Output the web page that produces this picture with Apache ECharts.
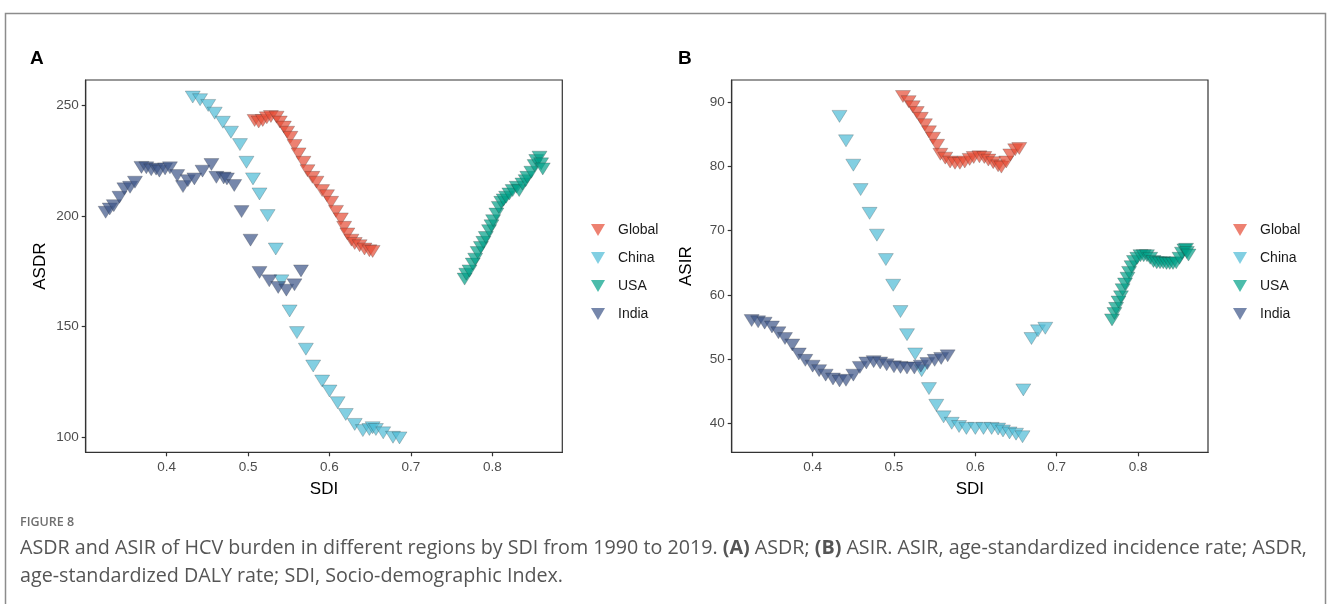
<!DOCTYPE html>
<html>
<head>
<meta charset="utf-8">
<script src="https://cdn.jsdelivr.net/npm/echarts@6/dist/echarts.min.js"></script>
<style>
html,body{margin:0;padding:0;background:#fff;}
#c{width:1330px;height:604px;}
</style>
</head>
<body>
<div id="c"></div>
<script>
// ---- data ----
const regions = ['Global', 'China', 'USA', 'India'];
const regionColors = ['#E64B35', '#4DBBD5', '#00A087', '#3C5488'];
const sdiTicks = [0.4, 0.5, 0.6, 0.7, 0.8];
const asdrTicks = [100, 150, 200, 250];
const asirTicks = [40, 50, 60, 70, 80, 90];

// Panel A: [SDI, ASDR]
const globalASDR = [[0.508,243.2],[0.513,242.5],[0.518,243.2],[0.523,244.4],[0.528,245.0],[0.535,244.7],[0.539,242.5],[0.544,240.2],[0.548,237.9],[0.552,235.6],[0.557,231.9],[0.562,228.1],[0.568,224.3],[0.573,220.5],[0.579,217.5],[0.584,215.3],[0.591,211.5],[0.597,209.2],[0.602,206.2],[0.608,202.1],[0.614,198.7],[0.618,194.9],[0.622,191.9],[0.627,189.1],[0.631,187.6],[0.637,186.6],[0.643,185.1],[0.649,184.3],[0.653,184.0]];
const chinaASDR = [[0.432,253.8],[0.441,252.6],[0.451,250.0],[0.459,246.5],[0.469,242.4],[0.479,237.9],[0.490,232.3],[0.498,224.3],[0.506,216.8],[0.514,210.0],[0.524,200.2],[0.534,185.1],[0.541,170.7],[0.551,157.1],[0.560,147.3],[0.571,139.8],[0.580,132.2],[0.591,125.4],[0.600,120.9],[0.610,115.6],[0.620,110.3],[0.631,105.8],[0.641,103.0],[0.649,103.5],[0.653,104.3],[0.657,103.5],[0.666,102.0],[0.678,100.0],[0.686,99.7]];
const usaASDR = [[0.766,171.5],[0.768,173.7],[0.772,175.2],[0.776,178.3],[0.779,180.5],[0.782,183.5],[0.786,185.8],[0.789,188.1],[0.792,190.3],[0.796,193.4],[0.799,195.6],[0.801,197.9],[0.805,200.9],[0.808,203.9],[0.811,206.2],[0.814,207.3],[0.817,208.5],[0.821,210.0],[0.825,211.5],[0.830,213.0],[0.833,211.5],[0.837,214.5],[0.841,216.0],[0.843,217.5],[0.848,219.8],[0.852,222.8],[0.854,225.1],[0.858,226.6],[0.860,223.6],[0.862,221.3]];
const indiaASDR = [[0.325,201.7],[0.330,203.2],[0.335,204.7],[0.342,208.5],[0.348,212.3],[0.355,213.0],[0.361,215.3],[0.369,222.0],[0.375,221.8],[0.381,220.9],[0.387,221.2],[0.391,220.3],[0.398,221.3],[0.404,221.8],[0.413,218.3],[0.420,213.3],[0.426,216.0],[0.434,216.8],[0.444,220.3],[0.455,223.3],[0.461,217.5],[0.470,217.2],[0.474,216.8],[0.483,213.8],[0.492,202.0],[0.503,189.1],[0.514,174.5],[0.526,170.7],[0.537,167.7],[0.547,166.5],[0.557,168.9],[0.565,175.2]];

// Panel B: [SDI, ASIR]
const globalASIR = [[0.511,90.9],[0.518,90.1],[0.523,89.3],[0.528,88.4],[0.533,87.5],[0.538,86.5],[0.543,85.4],[0.548,84.4],[0.553,83.3],[0.557,81.9],[0.563,81.3],[0.569,80.7],[0.575,80.5],[0.581,80.5],[0.587,80.7],[0.593,81.1],[0.598,81.4],[0.605,81.5],[0.611,81.4],[0.616,81.0],[0.622,80.6],[0.628,80.1],[0.632,79.9],[0.638,80.7],[0.643,81.8],[0.649,82.6],[0.654,82.8]];
const chinaASIR = [[0.433,87.8],[0.441,84.0],[0.450,80.2],[0.459,76.4],[0.470,72.7],[0.479,69.3],[0.490,65.5],[0.499,61.5],[0.508,57.4],[0.516,53.8],[0.526,50.8],[0.534,48.2],[0.543,45.4],[0.552,42.8],[0.561,41.0],[0.571,40.0],[0.580,39.5],[0.589,39.2],[0.600,39.2],[0.610,39.2],[0.620,39.2],[0.628,39.1],[0.634,38.8],[0.642,38.5],[0.650,38.3],[0.658,37.9],[0.659,45.2],[0.669,53.2],[0.677,54.4],[0.686,54.8]];
const usaASIR = [[0.768,56.1],[0.771,57.1],[0.773,57.9],[0.776,58.9],[0.779,59.7],[0.781,60.8],[0.784,61.7],[0.787,62.6],[0.789,63.5],[0.792,64.4],[0.795,65.2],[0.799,65.7],[0.803,66.1],[0.807,66.1],[0.811,66.1],[0.815,65.7],[0.819,65.2],[0.823,65.0],[0.827,65.0],[0.831,65.0],[0.835,64.9],[0.839,64.9],[0.843,64.9],[0.847,65.0],[0.851,65.7],[0.854,66.5],[0.857,67.0],[0.859,67.1],[0.860,66.6],[0.862,66.2]];
const indiaASIR = [[0.325,56.0],[0.333,55.8],[0.341,55.6],[0.350,55.0],[0.358,54.1],[0.366,53.2],[0.375,52.2],[0.383,50.8],[0.391,49.8],[0.400,48.9],[0.408,48.2],[0.416,47.5],[0.425,46.9],[0.433,46.6],[0.441,46.7],[0.450,47.5],[0.458,48.7],[0.466,49.4],[0.475,49.6],[0.483,49.4],[0.491,49.1],[0.500,48.8],[0.508,48.7],[0.516,48.6],[0.525,48.6],[0.533,48.9],[0.541,49.3],[0.550,49.8],[0.558,50.1],[0.566,50.5]];

const panelA = [globalASDR, chinaASDR, usaASDR, indiaASDR];
const panelB = [globalASIR, chinaASIR, usaASIR, indiaASIR];

// ---- chart ----
const FONT = '"Liberation Sans", Arial, sans-serif';
const CAP = '"Open Sans", sans-serif';
const DOWN_TRI = 'path://M0,0 L20,0 L10,17 Z';
const chart = echarts.init(document.getElementById('c'), null, {renderer: 'canvas'});

function xAxisFor(gi) {
  return {
    type: 'value', gridIndex: gi, min: 0.3005, max: 0.886,
    name: 'SDI', nameLocation: 'middle', nameGap: 29,
    nameTextStyle: {fontFamily: FONT, fontSize: 17, color: '#000'},
    splitLine: {show: false},
    axisLine: {show: true, onZero: false, lineStyle: {color: '#333', width: 1.2}},
    axisTick: {show: true, length: 4, lineStyle: {color: '#333', width: 1.2}, customValues: sdiTicks},
    axisLabel: {customValues: sdiTicks, margin: 8, fontFamily: FONT, fontSize: 13.5, color: '#4d4d4d',
      formatter: v => String(v)}
  };
}
function yAxisFor(gi, name, min, max, ticks) {
  return {
    type: 'value', gridIndex: gi, min: min, max: max,
    name: name, nameLocation: 'middle', nameGap: 37,
    nameTextStyle: {fontFamily: FONT, fontSize: 17, color: '#000'},
    splitLine: {show: false},
    axisLine: {show: true, onZero: false, lineStyle: {color: '#333', width: 1.2}},
    axisTick: {show: true, length: 4, lineStyle: {color: '#333', width: 1.2}, customValues: ticks},
    axisLabel: {customValues: ticks, margin: 7, fontFamily: FONT, fontSize: 13.5, color: '#4d4d4d'}
  };
}

const series = [];
[panelA, panelB].forEach((panel, gi) => {
  panel.forEach((data, i) => {
    series.push({
      type: 'scatter', name: regions[i], xAxisIndex: gi, yAxisIndex: gi,
      data: data, symbol: 'triangle', symbolRotate: 180, symbolSize: [15, 12],
      itemStyle: {color: regionColors[i], opacity: 0.7, borderColor: 'rgba(40,40,40,0.55)', borderWidth: 0.6},
      emphasis: {disabled: true}, animation: false
    });
  });
});

function legendAt(left) {
  return {
    orient: 'vertical', left: left, top: 218, itemWidth: 14, itemHeight: 12, itemGap: 14,
    data: regions.map(r => ({name: r, icon: DOWN_TRI})), selectedMode: false,
    symbolRotate: 0,
    itemStyle: {borderWidth: 0, opacity: 0.7},
    textStyle: {fontFamily: FONT, fontSize: 14, color: '#1a1a1a', padding: [0, 0, 0, 8]}
  };
}

chart.setOption({
  animation: false,
  backgroundColor: '#fff',
  grid: [
    {left: 85.7, top: 80, width: 476.6, height: 372.3, show: true, borderColor: '#333', borderWidth: 1.2, containLabel: false},
    {left: 731.7, top: 80, width: 476.3, height: 372.3, show: true, borderColor: '#333', borderWidth: 1.2, containLabel: false}
  ],
  xAxis: [xAxisFor(0), xAxisFor(1)],
  yAxis: [yAxisFor(0, 'ASDR', 93.2, 261.5, asdrTicks), yAxisFor(1, 'ASIR', 35.48, 93.47, asirTicks)],
  legend: [legendAt(586), legendAt(1228)],
  series: series,
  graphic: [
    {type: 'rect', shape: {x: 5.5, y: 13.5, width: 1320, height: 700}, style: {fill: 'none', stroke: '#8c8c8c', lineWidth: 1.5}, silent: true, z: -1},
    {type: 'text', left: 30, top: 49, style: {text: 'A', font: 'bold 19px ' + FONT, fill: '#000'}},
    {type: 'text', left: 678, top: 49, style: {text: 'B', font: 'bold 19px ' + FONT, fill: '#000'}},
    {type: 'text', left: 20, top: 516, style: {text: 'FIGURE 8', font: '600 12.5px ' + CAP, fill: '#6f6f6f'}},
    {type: 'text', left: 20, top: 538, style: {
      rich: {n: {font: '19.7px ' + CAP, fill: '#555'}, b: {font: 'bold 19.7px ' + CAP, fill: '#555'}},
      text: '{n|ASDR and ASIR of HCV burden in different regions by SDI from 1990 to 2019. }{b|(A)}{n| ASDR; }{b|(B)}{n| ASIR. ASIR, age-standardized incidence rate; ASDR,}'
    }},
    {type: 'text', left: 20, top: 566, style: {text: 'age-standardized DALY rate; SDI, Socio-demographic Index.', font: '19.7px ' + CAP, fill: '#555'}}
  ]
});
</script>
</body>
</html>
